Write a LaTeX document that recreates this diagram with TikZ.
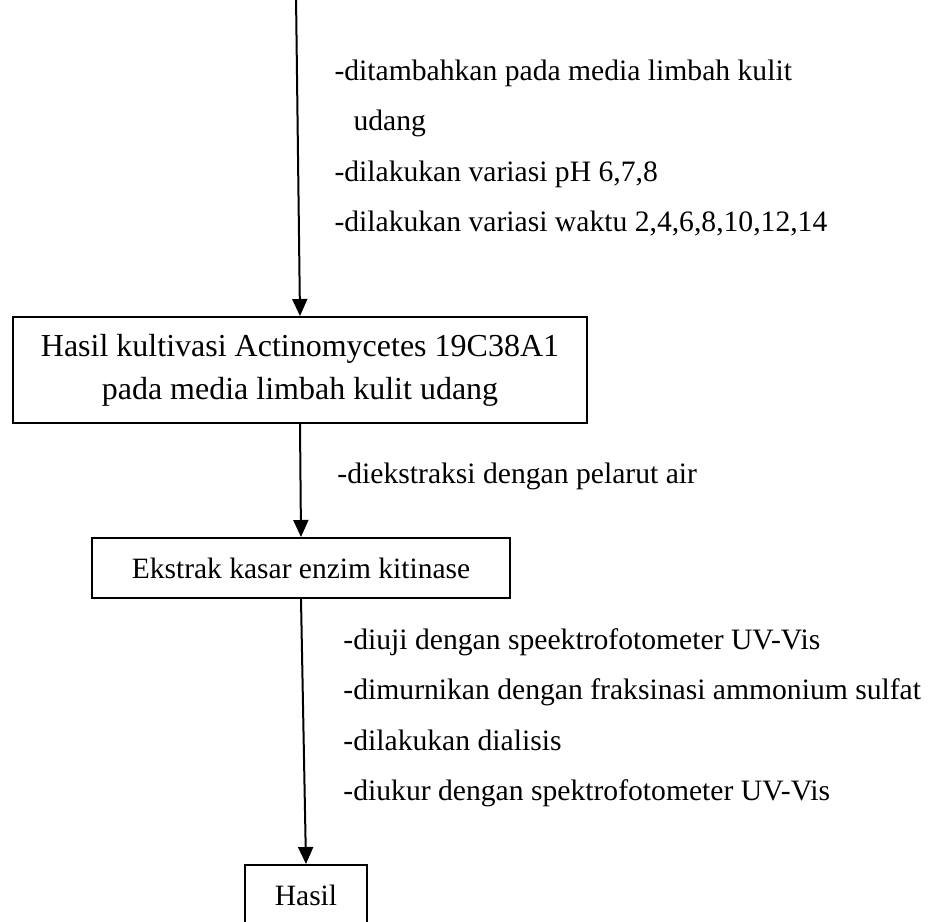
\documentclass[tikz,border=0pt]{standalone}
\usepackage{fontspec}
\setmainfont{Liberation Serif}
\usetikzlibrary{arrows.meta, positioning}

\begin{document}
\begin{tikzpicture}[
x=0.4pt, y=-0.4pt,
box/.style={rectangle, draw=black, line width=0.8pt, align=center, inner sep=0pt, font=\fontsize{11.8}{14}\selectfont},
bigbox/.style={box, font=\fontsize{12.8}{17.2}\selectfont},
note/.style={align=left, inner sep=0pt, anchor=north west, font=\fontsize{11.85}{20.2}\selectfont},
line/.style={-{Triangle[length=6.8pt, width=6pt]}, line width=0.8pt}
]
\useasboundingbox (0,0) rectangle (936,922);
\clip (0,0) rectangle (936,922);

\coordinate (start) at (296,-5);
\node[bigbox, minimum width=229.6pt, minimum height=42.4pt] (kultivasi) at (300,370) {Hasil kultivasi Actinomycetes 19C38A1\\pada media limbah kulit udang};
\node[box, minimum width=167.2pt, minimum height=24pt] (ekstrak) at (301,568) {Ekstrak kasar enzim kitinase};
\node[box, minimum width=48.8pt, minimum height=24pt] (hasil) at (306,895) {Hasil};

\node[note] (langkah1) at (334,59) {-ditambahkan pada media limbah kulit\\\hspace*{7.6pt}udang\\-dilakukan variasi pH 6,7,8\\-dilakukan variasi waktu 2,4,6,8,10,12,14};
\node[note] (langkah2) at (337,462) {-diekstraksi dengan pelarut air};
\node[note] (langkah3) at (343,628) {-diuji dengan speektrofotometer UV-Vis\\-dimurnikan dengan fraksinasi ammonium sulfat\\-dilakukan dialisis\\-diukur dengan spektrofotometer UV-Vis};

\draw[line] (start) -- (kultivasi.north);
\draw[line] (kultivasi.south) -- (ekstrak.north);
\draw[line] (ekstrak.south) -- (hasil.north);
\end{tikzpicture}
\end{document}
